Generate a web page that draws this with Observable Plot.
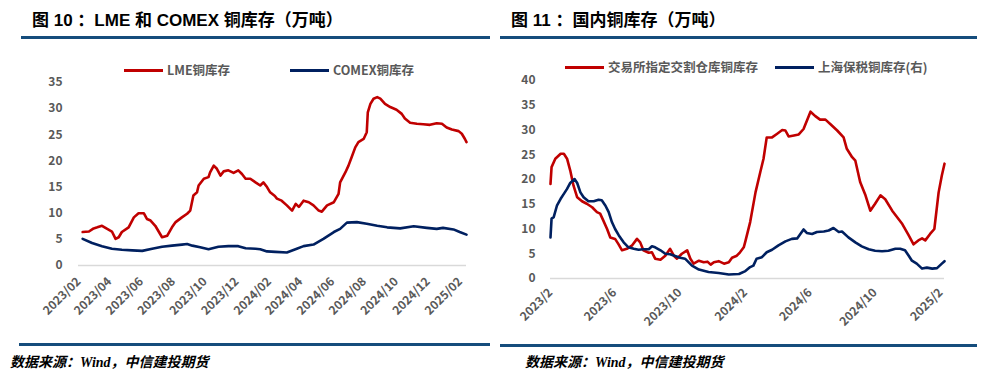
<!DOCTYPE html>
<html><head><meta charset="utf-8">
<script src="https://cdn.jsdelivr.net/npm/d3@7"></script>
<script src="https://cdn.jsdelivr.net/npm/@observablehq/plot@0.6"></script>
<style>
body{margin:0;background:#fff;width:987px;height:377px;position:relative;overflow:hidden;font-family:"Noto Sans CJK SC","Noto Sans",sans-serif;}
.abs{position:absolute;white-space:nowrap;}
.title{font-family:"Liberation Sans","Noto Sans CJK SC",sans-serif;font-size:17px;line-height:17px;font-weight:bold;color:#000;}
.rule{position:absolute;background:#154D7C;height:3px;}
.leg{position:absolute;font-size:12.5px;line-height:16px;height:16px;font-weight:bold;color:#595959;white-space:nowrap;display:flex;align-items:center;}
.leg i{display:inline-block;width:39px;height:3px;margin-right:4px;}
.foot{font-size:14px;line-height:16px;font-weight:bold;font-style:italic;color:#000;}
.foot .w{font-family:"Liberation Serif",serif;}
</style></head><body>
<div class="abs title" style="left:32px;top:12px;">图 10 ：LME 和 COMEX 铜库存（万吨）</div>
<div class="abs title" style="left:511px;top:12px;">图 11 ：国内铜库存（万吨）</div>
<div class="rule" style="left:21px;top:36px;width:469px;"></div>
<div class="rule" style="left:500px;top:36px;width:477px;"></div>
<div class="leg" style="left:124px;top:62px;"><i style="background:#C00000"></i>LME铜库存</div>
<div class="leg" style="left:290px;top:62px;"><i style="background:#002060"></i>COMEX铜库存</div>
<div class="leg" style="left:565px;top:59px;"><i style="background:#C00000"></i>交易所指定交割仓库铜库存</div>
<div class="leg" style="left:775px;top:59px;"><i style="background:#002060"></i>上海保税铜库存(右)</div>
<div id="left" class="abs" style="left:0;top:40px;"></div>
<div id="right" class="abs" style="left:493px;top:40px;"></div>
<div class="rule" style="left:19px;top:343px;width:471px;"></div>
<div class="rule" style="left:500px;top:344px;width:477px;"></div>
<div class="abs foot" style="left:10px;top:353px;">数据来源：<span class="w">Wind</span>，中信建投期货</div>
<div class="abs foot" style="left:525px;top:353px;">数据来源：<span class="w">Wind</span>，中信建投期货</div>
<script>
// ---- Figure 10: LME & COMEX copper stocks (10k t) ----
const lmeDates = ["2023-02-01","2023-02-13","2023-02-22","2023-03-01","2023-03-10","2023-03-20","2023-03-29","2023-04-05","2023-04-11","2023-04-17","2023-04-30","2023-05-10","2023-05-19","2023-05-29","2023-06-04","2023-06-11","2023-06-20","2023-07-03","2023-07-13","2023-07-22","2023-07-29","2023-08-10","2023-08-20","2023-08-26","2023-09-01","2023-09-08","2023-09-11","2023-09-21","2023-09-30","2023-10-03","2023-10-10","2023-10-16","2023-10-23","2023-10-29","2023-11-07","2023-11-17","2023-11-26","2023-12-03","2023-12-10","2023-12-19","2023-12-29","2024-01-07","2024-01-13","2024-01-20","2024-01-26","2024-02-04","2024-02-08","2024-02-17","2024-02-27","2024-03-08","2024-03-15","2024-03-21","2024-03-30","2024-04-09","2024-04-18","2024-04-28","2024-05-04","2024-05-14","2024-05-27","2024-06-05","2024-06-08","2024-06-18","2024-06-24","2024-06-30","2024-07-07","2024-07-13","2024-07-23","2024-07-29","2024-07-31","2024-08-05","2024-08-11","2024-08-18","2024-08-24","2024-09-02","2024-09-12","2024-09-24","2024-10-04","2024-10-10","2024-10-20","2024-11-02","2024-11-14","2024-11-27","2024-12-10","2024-12-20","2024-12-29","2025-01-08","2025-01-21","2025-01-27","2025-02-02","2025-02-05"];
const lmeStock = [6.4,6.5,7.1,7.3,7.6,7.0,6.5,5.1,5.4,6.4,7.3,9.2,10.0,10.0,8.9,8.6,7.6,5.4,5.7,7.3,8.3,9.2,9.9,10.5,13.4,14.0,15.3,16.6,16.9,17.8,19.1,18.5,17.2,18.0,18.2,17.7,18.2,17.5,16.6,16.6,15.9,15.3,15.9,15.0,14.0,13.3,12.8,12.4,11.5,10.5,11.8,11.2,12.4,12.1,11.5,10.5,10.3,11.5,12.1,13.7,15.9,17.8,19.1,20.7,22.6,23.6,24.2,25.5,29.3,30.9,31.9,32.2,31.9,30.9,30.3,29.8,29.0,28.1,27.3,27.1,27.0,26.9,27.2,27.1,26.4,26.0,25.7,25.2,24.2,23.6];
const comexDates = ["2023-02-01","2023-02-19","2023-03-10","2023-03-29","2023-04-17","2023-05-07","2023-05-26","2023-06-14","2023-07-03","2023-07-22","2023-08-10","2023-08-20","2023-08-30","2023-09-14","2023-09-30","2023-10-19","2023-11-07","2023-11-26","2023-12-10","2023-12-29","2024-01-07","2024-01-20","2024-02-05","2024-02-27","2024-03-17","2024-03-30","2024-04-18","2024-05-07","2024-05-27","2024-06-08","2024-06-21","2024-07-10","2024-07-29","2024-08-18","2024-09-06","2024-10-01","2024-10-27","2024-11-21","2024-12-10","2024-12-22","2025-01-11","2025-01-23","2025-02-05"];
const comexStock = [5.1,4.3,3.7,3.2,3.0,2.9,2.8,3.2,3.6,3.8,4.0,4.1,3.8,3.5,3.1,3.6,3.7,3.7,3.3,3.2,3.1,2.7,2.6,2.5,3.2,3.7,4.0,5.1,6.4,7.0,8.2,8.3,8.0,7.6,7.3,7.1,7.5,7.2,7.0,7.2,6.9,6.4,5.9];
const leftYTicks = [0,5,10,15,20,25,30,35];
const leftXTicks = ["2023-02-01","2023-04-01","2023-06-01","2023-08-01","2023-10-01","2023-12-01","2024-02-01","2024-04-01","2024-06-01","2024-08-01","2024-10-01","2024-12-01","2025-02-01"];

// ---- Figure 11: domestic copper stocks (10k t) ----
const shfeDates = ["2023-02-01","2023-02-03","2023-02-10","2023-02-20","2023-02-26","2023-03-04","2023-03-10","2023-03-16","2023-03-23","2023-04-01","2023-04-10","2023-04-20","2023-04-29","2023-05-05","2023-05-11","2023-05-18","2023-05-24","2023-06-02","2023-06-08","2023-06-15","2023-06-24","2023-07-04","2023-07-13","2023-07-19","2023-07-25","2023-08-04","2023-08-10","2023-08-16","2023-08-26","2023-09-04","2023-09-13","2023-09-20","2023-09-26","2023-10-05","2023-10-15","2023-10-21","2023-10-27","2023-11-06","2023-11-15","2023-11-22","2023-11-28","2023-12-04","2023-12-13","2023-12-23","2024-01-01","2024-01-07","2024-01-16","2024-01-22","2024-01-29","2024-02-01","2024-02-10","2024-02-20","2024-02-29","2024-03-06","2024-03-12","2024-03-22","2024-03-31","2024-04-10","2024-04-16","2024-04-22","2024-05-02","2024-05-11","2024-05-20","2024-06-02","2024-06-11","2024-06-20","2024-06-30","2024-07-12","2024-07-22","2024-08-03","2024-08-09","2024-08-19","2024-08-25","2024-09-03","2024-09-13","2024-09-22","2024-10-01","2024-10-11","2024-10-20","2024-11-02","2024-11-21","2024-12-03","2024-12-12","2024-12-21","2024-12-28","2025-01-03","2025-01-12","2025-01-20","2025-01-28","2025-02-03","2025-02-08"];
const shfeStock = [19.1,22.5,24.2,25.2,25.2,24.2,21.8,18.8,16.4,15.6,15.1,14.4,13.4,13.1,11.7,10.0,8.3,8.0,7.0,5.7,6.0,6.7,8.0,7.3,5.7,5.2,5.3,4.0,3.8,4.6,6.0,4.6,4.0,5.0,5.7,4.0,3.0,3.6,3.3,3.4,2.8,3.3,3.5,3.0,3.3,4.2,4.6,5.3,6.3,7.5,11.4,17.4,21.5,24.2,28.5,28.5,29.2,30.0,29.9,28.7,28.9,29.1,30.2,33.7,32.8,32.1,32.1,30.9,29.9,28.5,26.2,24.5,23.8,19.5,16.8,13.7,15.1,16.8,16.0,13.7,11.0,8.7,6.9,7.7,8.1,7.7,9.0,10.0,17.4,20.8,23.2];
const bondedDates = ["2023-02-01","2023-02-03","2023-02-07","2023-02-13","2023-02-20","2023-02-26","2023-03-04","2023-03-10","2023-03-18","2023-03-23","2023-03-29","2023-04-04","2023-04-13","2023-04-23","2023-05-02","2023-05-08","2023-05-15","2023-05-21","2023-05-27","2023-06-02","2023-06-09","2023-06-18","2023-06-27","2023-07-07","2023-07-16","2023-07-25","2023-08-04","2023-08-10","2023-08-16","2023-08-26","2023-09-04","2023-09-13","2023-09-21","2023-10-02","2023-10-11","2023-10-24","2023-11-06","2023-11-24","2023-12-13","2024-01-01","2024-01-20","2024-02-01","2024-02-10","2024-02-16","2024-02-22","2024-03-03","2024-03-12","2024-03-22","2024-04-03","2024-04-16","2024-04-28","2024-05-08","2024-05-14","2024-05-20","2024-05-26","2024-06-05","2024-06-14","2024-06-27","2024-07-06","2024-07-15","2024-07-25","2024-07-31","2024-08-12","2024-08-25","2024-09-06","2024-09-19","2024-10-01","2024-10-14","2024-10-26","2024-11-08","2024-11-17","2024-11-26","2024-12-03","2024-12-09","2024-12-18","2024-12-28","2025-01-06","2025-01-16","2025-01-25","2025-02-03","2025-02-08"];
const bondedStock = [8.3,12.1,12.4,14.7,16.1,17.1,18.1,19.3,20.1,19.3,17.4,16.4,15.6,15.6,15.9,15.8,14.7,13.4,11.4,10.0,8.7,7.3,6.3,6.0,5.8,5.9,5.9,6.5,6.3,5.7,5.0,4.9,4.6,4.2,4.0,2.6,1.8,1.3,1.1,0.8,0.9,1.5,2.3,2.6,4.0,4.3,5.3,5.8,6.7,7.5,8.0,8.1,9.0,9.9,9.2,9.0,9.4,9.5,9.7,10.2,9.4,9.5,8.3,7.3,6.5,5.9,5.6,5.5,5.6,6.0,6.0,5.7,4.6,3.6,3.0,2.0,2.2,2.0,2.1,3.0,3.5];
const rightYTicks = [0,5,10,15,20,25,30,35,40];
const rightXTicks = ["2023-02-01","2023-06-01","2023-10-01","2024-02-01","2024-06-01","2024-10-01","2025-02-01"];

const toRows = (dates, vals) => dates.map((d, i) => ({date: new Date(d), value: vals[i]}));
const axisStyle = {fontFamily: '"Noto Sans CJK SC","Noto Sans",sans-serif', fontSize: "12px", fontWeight: "bold", color: "#595959", background: "transparent", overflow: "visible"};
const RED = "#C00000", BLUE = "#002060";

const leftPlot = Plot.plot({
  width: 493, height: 300,
  marginTop: 42, marginBottom: 75, marginLeft: 78, marginRight: 27,
  style: axisStyle,
  x: {type: "utc", domain: [new Date("2023-01-24"), new Date("2025-02-05")]},
  y: {domain: [0, 35]},
  marks: [
    Plot.ruleY([0], {stroke: "#D9D9D9", strokeWidth: 1.5}),
    Plot.lineY(toRows(lmeDates, lmeStock), {x: "date", y: "value", stroke: RED, strokeWidth: 2.6}),
    Plot.lineY(toRows(comexDates, comexStock), {x: "date", y: "value", stroke: BLUE, strokeWidth: 2.6}),
    Plot.axisY({ticks: leftYTicks, tickSize: 0, tickPadding: 16, label: null}),
    Plot.axisX({ticks: leftXTicks.map(d => new Date(d)), tickFormat: d3.utcFormat("%Y/%m"), tickRotate: -45, tickSize: 0, tickPadding: 14, label: null, dx: -4})
  ]
});
document.getElementById("left").append(leftPlot);

const rightPlot = Plot.plot({
  width: 494, height: 300,
  marginTop: 40, marginBottom: 62, marginLeft: 57, marginRight: 43,
  style: axisStyle,
  x: {type: "utc", domain: [new Date("2023-02-01"), new Date("2025-02-08")]},
  y: {domain: [0, 40]},
  marks: [
    Plot.ruleY([0], {stroke: "#D9D9D9", strokeWidth: 1.5}),
    Plot.lineY(toRows(shfeDates, shfeStock), {x: "date", y: "value", stroke: RED, strokeWidth: 2.6}),
    Plot.lineY(toRows(bondedDates, bondedStock), {x: "date", y: "value", stroke: BLUE, strokeWidth: 2.6}),
    Plot.axisY({ticks: rightYTicks, tickSize: 0, tickPadding: 15, label: null}),
    Plot.axisX({ticks: rightXTicks.map(d => new Date(d)), tickFormat: d3.utcFormat("%Y/%-m"), tickRotate: -45, tickSize: 0, tickPadding: 12, label: null})
  ]
});
document.getElementById("right").append(rightPlot);
</script>
</body></html>
